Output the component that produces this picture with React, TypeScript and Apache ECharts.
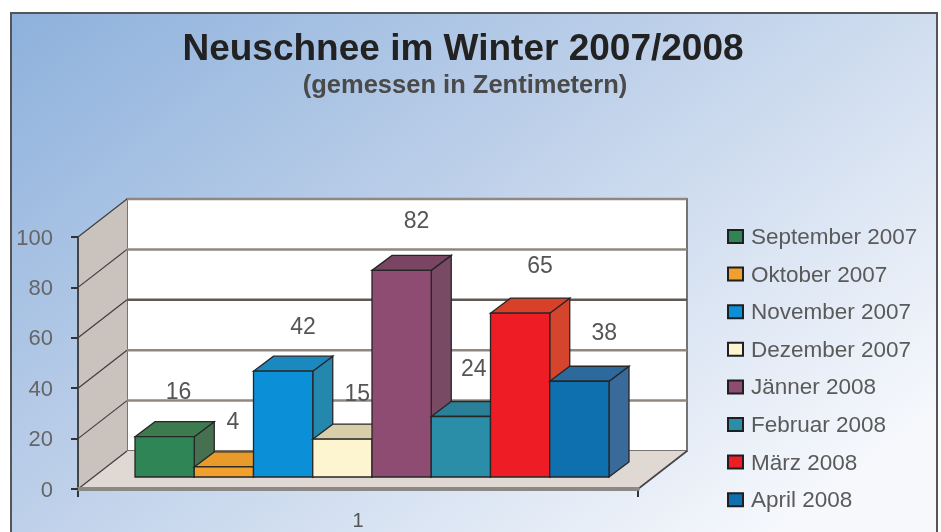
import React, { useEffect, useRef } from "react";
import * as echarts from "echarts";

const categories = ["1"];
const seriesNames = ["September 2007", "Oktober 2007", "November 2007", "Dezember 2007", "Jänner 2008", "Februar 2008", "März 2008", "April 2008"];
const seriesValues = [16, 4, 42, 15, 82, 24, 65, 38];
const yTicks = [0, 20, 40, 60, 80, 100];
const frontColors = ["#2f8556", "#f0a02c", "#0b90d8", "#fdf5d0", "#8f4c72", "#2a8ea8", "#ee1c25", "#0f70b0"];
const topColors = ["#3d7a4e", "#e89a2a", "#1c88c0", "#d8cfaa", "#7a4463", "#2a8098", "#d8402a", "#2c6a9e"];
const sideColors = ["#46704f", "#d89028", "#2488ae", "#cfc7a5", "#784a63", "#2a7a90", "#d5452e", "#3a6a9a"];
const labelNudgeX = [14, 9, 20, 15, 15, 13, 20, 25];
const labelNudgeY = [-46, -46, -45, -46, -50, -49, -48, -49];

const FONT = '"Liberation Sans", Arial, sans-serif';
const WALL_DX = 49, WALL_DY = -38;
const BAR_DX = 20, BAR_DY = -15, BAR_LIFT = -12, BAR_W = 59.25, BAR_START = 57;

function renderFrame(params: any, api: any) {
  const v = api.value(0);
  const p = api.coord([0, v]);
  const band = api.size([1, 0])[0];
  const left = p[0] - band / 2;
  const right = p[0] + band / 2;
  const y = p[1];
  const children: any[] = [];
  if (params.dataIndex === 0) {
    const topY = api.coord([0, 100])[1];
    children.push(
      { type: "polygon", shape: { points: [[left + WALL_DX, topY + WALL_DY], [right + WALL_DX, topY + WALL_DY], [right + WALL_DX, y + WALL_DY], [left + WALL_DX, y + WALL_DY]] }, style: { fill: "#ffffff", stroke: "#77736f", lineWidth: 2 } },
      { type: "polygon", shape: { points: [[left, topY], [left + WALL_DX, topY + WALL_DY], [left + WALL_DX, y + WALL_DY], [left, y]] }, style: { fill: "#c9c2bd" } },
      { type: "polygon", shape: { points: [[left, y], [right, y], [right + WALL_DX, y + WALL_DY], [left + WALL_DX, y + WALL_DY]] }, style: { fill: "#dfd8d3" } },
      { type: "line", shape: { x1: left, y1: y, x2: left, y2: y + 8 }, style: { stroke: "#333", lineWidth: 2 } },
      { type: "line", shape: { x1: right, y1: y, x2: right, y2: y + 8 }, style: { stroke: "#333", lineWidth: 2 } }
    );
  }
  children.push(
    { type: "line", shape: { x1: left, y1: y, x2: left + WALL_DX, y2: y + WALL_DY }, style: { stroke: "#3f3f3f", lineWidth: 1.2 } }
  );
  if (v > 0) {
    children.push({ type: "line", shape: { x1: left + WALL_DX, y1: y + WALL_DY, x2: right + WALL_DX, y2: y + WALL_DY }, style: { stroke: v === 60 ? "#5f5a56" : "#8f8780", lineWidth: 2.5 } });
  } else {
    children.push({ type: "line", shape: { x1: right, y1: y, x2: right + WALL_DX, y2: y + WALL_DY }, style: { stroke: "#444", lineWidth: 1.6 } });
  }
  return { type: "group", children };
}

function makeBar(i: number) {
  return (_params: any, api: any) => {
    const value = api.value(1);
    const base = api.coord([0, 0]);
    const top = api.coord([0, value]);
    const band = api.size([1, 0])[0];
    const x0 = base[0] - band / 2 + BAR_START + i * BAR_W;
    const x1 = x0 + BAR_W;
    const yb = base[1] + BAR_LIFT;
    const yt = top[1] + BAR_LIFT;
    const edge = { stroke: "#262626", lineWidth: 1.3 };
    return {
      type: "group",
      children: [
        { type: "polygon", shape: { points: [[x1, yt], [x1 + BAR_DX, yt + BAR_DY], [x1 + BAR_DX, yb + BAR_DY], [x1, yb]] }, style: { fill: sideColors[i], ...edge } },
        { type: "polygon", shape: { points: [[x0, yt], [x0 + BAR_DX, yt + BAR_DY], [x1 + BAR_DX, yt + BAR_DY], [x1, yt]] }, style: { fill: topColors[i], ...edge } },
        { type: "polygon", shape: { points: [[x0, yb], [x0, yt], [x1, yt], [x1, yb]] }, style: { fill: frontColors[i], ...edge } },
        { type: "text", style: { x: (x0 + x1) / 2 + labelNudgeX[i], y: yt + labelNudgeY[i], text: String(value), fill: "#555", font: `23px ${FONT}`, textAlign: "center", textVerticalAlign: "middle" } },
      ],
    };
  };
}

export default function App() {
  const ref = useRef<HTMLDivElement>(null);
  useEffect(() => {
    const chart = echarts.init(ref.current!, null, { renderer: "svg" });
    chart.setOption({
      animation: false,
      backgroundColor: "#ffffff",
      graphic: [
        {
          type: "rect", z: -1, silent: true,
          shape: { x: 11, y: 13, width: 926, height: 530 },
          style: {
            fill: new echarts.graphic.LinearGradient(0, 0, 1, 0.75, [
              { offset: 0, color: "#8db1dc" },
              { offset: 0.45, color: "#bccfe9" },
              { offset: 1, color: "#f6f8fc" },
            ]),
            stroke: "#555",
            lineWidth: 2,
          },
        },
      ],
      title: [
        { text: "Neuschnee im Winter 2007/2008", left: 458, top: 24, textAlign: "center", textStyle: { fontFamily: FONT, fontSize: 37, fontWeight: "bold", color: "#222" } },
        { text: "(gemessen in Zentimetern)", left: 460, top: 66, textAlign: "center", textStyle: { fontFamily: FONT, fontSize: 25.5, fontWeight: "bold", color: "#4a4a4a" } },
      ],
      legend: {
        orient: "vertical", left: 722, top: 220, itemWidth: 15, itemHeight: 13, itemGap: 14.6, icon: "rect", selectedMode: false,
        data: seriesNames,
        itemStyle: { borderColor: "#1f1f1f", borderWidth: 2 },
        textStyle: { fontFamily: FONT, fontSize: 22.5, color: "#5a5a5a", padding: [0, 0, 0, 3] },
      },
      grid: { left: 78, right: 941 - 638, top: 237, bottom: 532 - 489, outerBoundsMode: "none" },
      xAxis: {
        type: "category", data: categories, z: 2,
        axisLine: { lineStyle: { color: "#8b8885", width: 4 } },
        axisTick: { show: false },
        axisLabel: { margin: 21, fontFamily: FONT, fontSize: 20, color: "#555" },
      },
      yAxis: {
        type: "value", min: 0, max: 100, interval: 20, z: 2,
        splitLine: { show: false },
        axisLine: { show: true, lineStyle: { color: "#444", width: 2 } },
        axisTick: { show: true, length: 7, lineStyle: { color: "#333", width: 2 } },
        axisLabel: { margin: 25, fontFamily: FONT, fontSize: 22, color: "#666" },
      },
      series: [
        { type: "custom", name: "frame", renderItem: renderFrame, clip: false, silent: true, data: yTicks.map((t) => [t]), encode: { y: 0 }, z: 1 },
        ...seriesNames.map((name, i) => ({
          type: "custom", name, renderItem: makeBar(i), clip: false, silent: true, z: 3,
          itemStyle: { color: frontColors[i] },
          encode: { x: 0, y: 1 },
          data: [[0, seriesValues[i]]],
        })),
      ],
    });
    return () => chart.dispose();
  }, []);
  return <div ref={ref} style={{ position: "absolute", left: 0, top: 0, width: 941, height: 532, filter: "blur(0.7px)" }} />;
}
